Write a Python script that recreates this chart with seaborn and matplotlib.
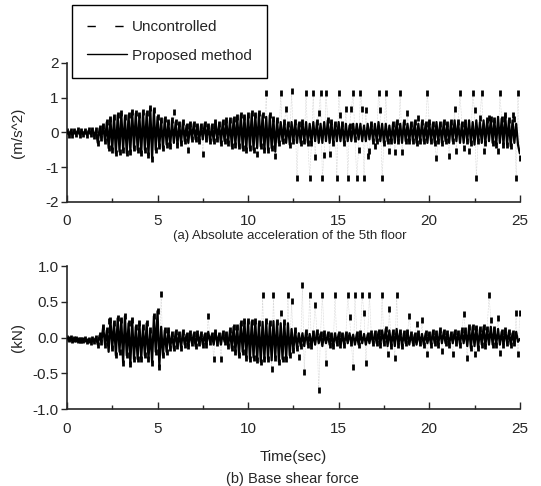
import numpy as np
import matplotlib
matplotlib.use("Agg")
import matplotlib.pyplot as plt
from matplotlib.lines import Line2D
from matplotlib.ticker import MultipleLocator, FormatStrFormatter
import seaborn as sns

# time grid, one sample every 0.1 s (peak to peak of the response)
time = np.round(np.arange(251) * 0.1, 1)

# (a) absolute acceleration of the 5th floor, m/s^2
acc_ctrl = [
    0.05, -0.06, 0.04, -0.07, 0.05, -0.05, 0.06, -0.06, 0.04, -0.05,
    0.05, -0.07, 0.06, -0.05, 0.08, -0.1, 0.06, -0.3, 0.12, -0.15,
    0.2, -0.25, 0.3, -0.45, 0.4, -0.5, 0.45, -0.6, 0.5, -0.55,
    0.55, -0.5, 0.45, -0.6, 0.5, -0.55, 0.6, -0.45, 0.55, -0.5,
    0.5, -0.6, 0.6, -0.5, 0.55, -0.65, 0.7, -0.75, 0.65, -0.5,
    0.45, -0.4, 0.35, -0.45, 0.4, -0.35, 0.3, -0.4, 0.35, -0.3,
    0.3, -0.35, 0.25, -0.3, 0.3, -0.25, 0.2, -0.3, 0.25, -0.2,
    0.25, -0.2, 0.2, -0.25, 0.2, -0.2, 0.25, -0.2, 0.2, -0.25,
    0.2, -0.25, 0.3, -0.2, 0.25, -0.3, 0.3, -0.25, 0.35, -0.3,
    0.35, -0.4, 0.4, -0.35, 0.45, -0.4, 0.5, -0.45, 0.45, -0.5,
    0.5, -0.45, 0.55, -0.5, 0.5, -0.45, 0.55, -0.4, 0.5, -0.5,
    0.45, -0.5, 0.5, -0.45, 0.4, -0.55, 0.35, -0.3, 0.3, -0.25,
    0.3, -0.3, 0.25, -0.35, 0.3, -0.25, 0.3, -0.3, 0.25, -0.3,
    0.3, -0.25, 0.3, -0.3, 0.25, -0.3, 0.3, -0.25, 0.3, -0.3,
    0.25, -0.3, 0.3, -0.25, 0.35, -0.3, 0.3, -0.3, 0.25, -0.25,
    0.3, -0.25, 0.25, -0.3, 0.25, -0.25, 0.2, -0.25, 0.25, -0.2,
    0.25, -0.2, 0.25, -0.25, 0.2, -0.25, 0.25, -0.2, 0.25, -0.25,
    0.25, -0.25, 0.3, -0.25, 0.25, -0.3, 0.25, -0.25, 0.2, -0.25,
    0.25, -0.3, 0.3, -0.25, 0.25, -0.3, 0.3, -0.25, 0.25, -0.25,
    0.25, -0.25, 0.3, -0.3, 0.25, -0.25, 0.3, -0.25, 0.25, -0.3,
    0.3, -0.25, 0.25, -0.3, 0.3, -0.25, 0.25, -0.3, 0.3, -0.25,
    0.25, -0.3, 0.3, -0.25, 0.35, -0.25, 0.3, -0.3, 0.25, -0.3,
    0.3, -0.25, 0.35, -0.3, 0.3, -0.35, 0.35, -0.25, 0.3, -0.3,
    0.35, -0.3, 0.35, -0.25, 0.4, -0.3, 0.35, -0.35, 0.45, -0.3,
    0.4, -0.35, 0.5, -0.35, 0.35, -0.4, 0.35, -0.3, 0.25, -0.35,
    -0.6,
]
acc_unc = [
    0.05, -0.06, 0.04, -0.07, 0.05, -0.05, 0.06, -0.06, 0.04, -0.05,
    0.05, -0.07, 0.06, -0.05, 0.08, -0.1, 0.06, -0.3, 0.12, -0.15,
    0.2, -0.25, 0.3, -0.45, 0.4, -0.5, 0.45, -0.6, 0.5, -0.55,
    0.55, -0.5, 0.45, -0.6, 0.5, -0.55, 0.6, -0.45, 0.55, -0.5,
    0.5, -0.6, 0.6, -0.5, 0.55, -0.65, 0.7, -0.75, 0.65, -0.5,
    0.45, -0.4, 0.35, -0.45, 0.4, -0.35, 0.3, -0.4, 0.35, 0.59,
    0.3, -0.35, 0.25, -0.3, 0.3, -0.25, 0.2, -0.5, 0.25, -0.2,
    0.25, -0.2, 0.2, -0.25, 0.2, -0.61, 0.25, -0.2, 0.2, -0.25,
    0.2, -0.25, 0.3, -0.2, 0.25, -0.3, 0.3, -0.25, 0.35, -0.3,
    0.35, -0.4, 0.4, -0.35, 0.45, -0.4, 0.5, -0.45, 0.45, -0.5,
    0.5, -0.45, 0.55, -0.5, 0.5, -0.61, 0.55, -0.4, 0.5, -0.5,
    1.13, -0.5, 0.5, -0.45, 0.4, -0.67, 0.35, -0.3, 1.15, -0.25,
    0.3, 0.69, 0.25, -0.35, 1.2, -0.25, 0.3, -1.3, 0.25, -0.3,
    0.3, -0.25, 1.15, -0.3, -1.3, -0.3, 1.15, -0.71, 0.3, 0.55,
    1.15, -1.3, -0.64, 1.15, 0.35, -0.61, 0.3, -0.3, 0.25, -1.3,
    1.15, 0.49, 0.25, -0.3, 0.69, -1.3, 0.2, 0.69, 1.15, -0.2,
    -1.3, -0.5, 1.15, 0.69, -1.3, 0.64, -0.69, -0.52, 0.25, -0.25,
    -0.38, -0.25, 1.15, 0.64, -1.3, -0.3, 1.15, -0.25, -0.52, -0.25,
    0.25, -0.57, 0.3, -0.25, 1.15, -0.55, 0.3, -0.25, 0.55, -0.25,
    0.25, -0.25, 0.3, -0.3, 0.43, -0.25, 0.3, -0.25, 0.25, 1.15,
    0.3, -0.25, 0.25, -0.3, -0.73, -0.25, 0.25, -0.3, 0.3, -0.25,
    0.25, -0.69, 0.3, -0.25, 0.69, -0.52, 0.3, 1.15, 0.25, -0.44,
    0.3, -0.25, -0.52, -0.3, 1.15, 0.64, -1.3, -0.25, 0.43, 1.15,
    -0.52, -0.3, 0.35, 0.43, 0.4, -0.3, 0.35, -0.35, -0.52, 1.15,
    0.4, -0.35, 0.5, -0.35, 0.35, -0.4, 0.49, 0.4, -1.3, 1.15,
    -0.73,
]

# (b) base shear force, kN
shear_ctrl = [
    -0.01, -0.02, -0.01, -0.03, -0.02, -0.02, -0.03, -0.03, -0.04, -0.03,
    -0.02, -0.05, -0.03, -0.06, -0.02, -0.05, 0.0, -0.1, 0.03, -0.06,
    0.15, -0.1, 0.1, -0.2, 0.25, -0.15, 0.2, -0.25, 0.27, -0.2,
    0.25, -0.35, 0.3, -0.25, 0.2, -0.37, 0.25, -0.3, 0.15, -0.3,
    0.2, -0.3, 0.15, -0.25, 0.2, -0.3, 0.1, -0.35, 0.3, -0.2,
    0.37, -0.41, 0.15, -0.25, 0.1, -0.2, 0.1, -0.15, 0.05, -0.15,
    0.08, -0.12, 0.05, -0.14, 0.08, -0.1, 0.04, -0.12, 0.06, -0.08,
    0.05, -0.12, 0.06, -0.08, 0.05, -0.1, 0.04, -0.1, 0.08, -0.06,
    0.04, -0.1, 0.08, -0.08, 0.04, -0.1, 0.06, -0.06, 0.05, -0.12,
    0.1, -0.15, 0.15, -0.2, 0.15, -0.25, 0.2, -0.2, 0.23, -0.28,
    0.23, -0.3, 0.22, -0.28, 0.23, -0.32, 0.2, -0.34, 0.22, -0.3,
    0.23, -0.3, 0.2, -0.32, 0.23, -0.28, 0.22, -0.34, 0.2, -0.3,
    0.22, -0.3, 0.2, -0.25, 0.12, -0.18, 0.1, -0.15, 0.06, -0.12,
    0.06, -0.12, 0.08, -0.1, 0.05, -0.12, 0.06, -0.1, 0.08, -0.08,
    0.05, -0.12, 0.06, -0.08, 0.05, -0.1, 0.04, -0.12, 0.06, -0.08,
    0.05, -0.1, 0.04, -0.1, 0.05, -0.08, 0.06, -0.08, 0.04, -0.1,
    0.05, -0.1, 0.06, -0.08, 0.05, -0.1, 0.04, -0.08, 0.06, -0.08,
    0.06, -0.08, 0.08, -0.1, 0.1, -0.08, 0.12, -0.12, 0.1, -0.12,
    0.08, -0.12, 0.12, -0.1, 0.08, -0.12, 0.06, -0.08, 0.08, -0.1,
    0.05, -0.08, 0.04, -0.1, 0.06, -0.08, 0.05, -0.1, 0.06, -0.08,
    0.05, -0.1, 0.08, -0.08, 0.06, -0.1, 0.1, -0.08, 0.08, -0.08,
    0.06, -0.1, 0.05, -0.08, 0.08, -0.08, 0.06, -0.1, 0.1, -0.08,
    0.1, -0.12, 0.15, -0.15, 0.15, -0.12, 0.14, -0.15, 0.12, -0.1,
    0.15, -0.12, 0.12, -0.1, 0.15, -0.1, 0.12, -0.1, 0.12, -0.1,
    0.08, -0.1, 0.1, -0.08, 0.08, -0.1, 0.06, -0.08, 0.08, -0.06,
    -0.02,
]
shear_unc = [
    -0.01, -0.02, -0.01, -0.03, -0.02, -0.02, -0.03, -0.03, -0.04, -0.03,
    -0.02, -0.05, -0.03, -0.06, -0.02, -0.05, 0.0, -0.1, 0.03, -0.06,
    0.15, -0.1, 0.1, 0.23, 0.25, -0.15, 0.2, -0.25, 0.27, -0.2,
    0.25, -0.35, 0.3, -0.25, 0.2, -0.37, 0.25, -0.3, 0.15, -0.3,
    0.2, -0.3, 0.15, -0.25, 0.2, -0.3, 0.1, -0.35, 0.3, -0.2,
    0.37, -0.41, 0.61, -0.25, 0.1, -0.2, 0.1, -0.15, 0.05, -0.15,
    0.08, -0.12, 0.05, -0.14, 0.08, -0.1, 0.04, -0.12, 0.06, -0.08,
    0.05, -0.12, 0.06, -0.08, 0.05, -0.1, 0.04, -0.1, 0.3, -0.06,
    0.04, -0.3, 0.08, -0.08, 0.04, -0.3, 0.06, -0.06, 0.05, -0.12,
    0.1, -0.15, 0.15, -0.2, 0.15, -0.25, 0.2, -0.2, 0.23, -0.28,
    0.23, -0.3, 0.22, -0.28, 0.23, -0.32, 0.2, -0.34, 0.59, -0.3,
    0.23, -0.3, 0.2, -0.44, 0.59, -0.28, 0.22, -0.34, 0.34, -0.3,
    0.22, -0.3, 0.59, -0.25, 0.51, -0.18, 0.1, -0.15, -0.27, -0.12,
    0.73, -0.48, 0.08, -0.1, 0.59, -0.12, 0.06, 0.46, 0.08, -0.74,
    0.05, 0.59, 0.06, -0.36, 0.05, -0.1, 0.04, -0.12, 0.59, -0.08,
    0.05, -0.1, 0.04, -0.1, 0.05, 0.59, 0.29, -0.08, -0.41, 0.59,
    0.05, -0.1, 0.06, 0.59, 0.34, -0.35, 0.04, 0.59, 0.06, -0.08,
    0.06, -0.08, 0.08, -0.1, 0.59, -0.08, 0.12, -0.23, 0.4, -0.12,
    0.08, -0.28, 0.59, -0.1, 0.08, -0.12, 0.06, -0.08, 0.08, 0.3,
    0.05, -0.08, 0.04, 0.19, 0.06, -0.08, 0.24, -0.1, 0.06, -0.23,
    0.05, -0.1, 0.08, -0.08, 0.06, -0.1, 0.1, -0.19, 0.08, -0.08,
    0.06, -0.1, 0.05, -0.23, 0.08, -0.08, 0.06, -0.1, 0.1, 0.33,
    0.1, -0.29, 0.15, -0.15, 0.15, -0.23, 0.14, -0.15, 0.12, -0.1,
    0.15, -0.12, 0.12, 0.6, 0.24, -0.1, 0.12, -0.1, 0.27, -0.21,
    0.08, -0.1, 0.1, -0.08, 0.08, -0.1, 0.06, -0.08, 0.34, -0.23,
    0.34,
]

acc_ticks = [-2, -1, 0, 1, 2]
shear_ticks = [-1.0, -0.5, 0.0, 0.5, 1.0]
legend_labels = ["Uncontrolled", "Proposed method"]

sns.set_style("ticks")
plt.rcParams["font.family"] = ["Liberation Sans", "DejaVu Sans"]
plt.rcParams["axes.unicode_minus"] = False

fig = plt.figure(figsize=(5.41, 4.86), dpi=100)
ax1 = fig.add_axes([0.1238, 0.5844, 0.837, 0.286])
ax2 = fig.add_axes([0.1238, 0.1584, 0.837, 0.2942])


def draw(ax, unc, ctrl):
    sns.lineplot(x=time, y=unc, ax=ax, color="0.85", linewidth=0.4,
                 linestyle="--", marker="|", markersize=4,
                 markeredgewidth=2, markeredgecolor="black",
                 errorbar=None, legend=False, zorder=2)
    sns.lineplot(x=time, y=ctrl, ax=ax, color="black", linewidth=1.6,
                 errorbar=None, legend=False, zorder=3)
    ax.set_xlim(0, 25)
    ax.xaxis.set_major_locator(MultipleLocator(5))
    ax.xaxis.set_minor_locator(MultipleLocator(2.5))
    ax.tick_params(axis="x", which="major", direction="in", length=5,
                   width=1, labelsize=11, pad=9)
    ax.tick_params(axis="x", which="minor", direction="in", length=3, width=1)
    ax.tick_params(axis="y", which="major", direction="out", length=4,
                   width=1, labelsize=11, pad=2)
    for s in ["left", "bottom"]:
        ax.spines[s].set_linewidth(1.2)
    sns.despine(ax=ax)


draw(ax1, acc_unc, acc_ctrl)
ax1.set_ylim(-2, 2)
ax1.set_yticks(acc_ticks)
ax1.yaxis.set_major_formatter(FormatStrFormatter("%d"))
ax1.set_ylabel("(m/s^2)", fontsize=11)
ax1.yaxis.set_label_coords(-0.093, 0.5)

draw(ax2, shear_unc, shear_ctrl)
ax2.set_ylim(-1, 1)
ax2.set_yticks(shear_ticks)
ax2.yaxis.set_major_formatter(FormatStrFormatter("%.1f"))
ax2.set_ylabel("(kN)", fontsize=11)
ax2.yaxis.set_label_coords(-0.093, 0.5)
ax2.set_xlabel("Time(sec)", fontsize=11)
ax2.xaxis.set_label_coords(0.5, -0.285)

fig.text(0.536, 1 - 236 / 486, "(a) Absolute acceleration of the 5th floor",
         ha="center", va="center", fontsize=9.5)
fig.text(0.54, 1 - 479 / 486, "(b) Base shear force",
         ha="center", va="center", fontsize=10.5)

handles = [Line2D([], [], color="black", lw=1, dashes=(6, 14)),
           Line2D([], [], color="black", lw=1)]
leg = fig.legend(handles, legend_labels, loc="upper left",
                 bbox_to_anchor=(72 / 541, 1 - 5 / 486), borderaxespad=0,
                 frameon=True, fancybox=False, edgecolor="black",
                 framealpha=1, fontsize=11, handlelength=2.6, borderpad=1.0,
                 labelspacing=0.95, handletextpad=0.3)
leg.get_frame().set_linewidth(1.0)

fig.savefig("out.png", dpi=100)
